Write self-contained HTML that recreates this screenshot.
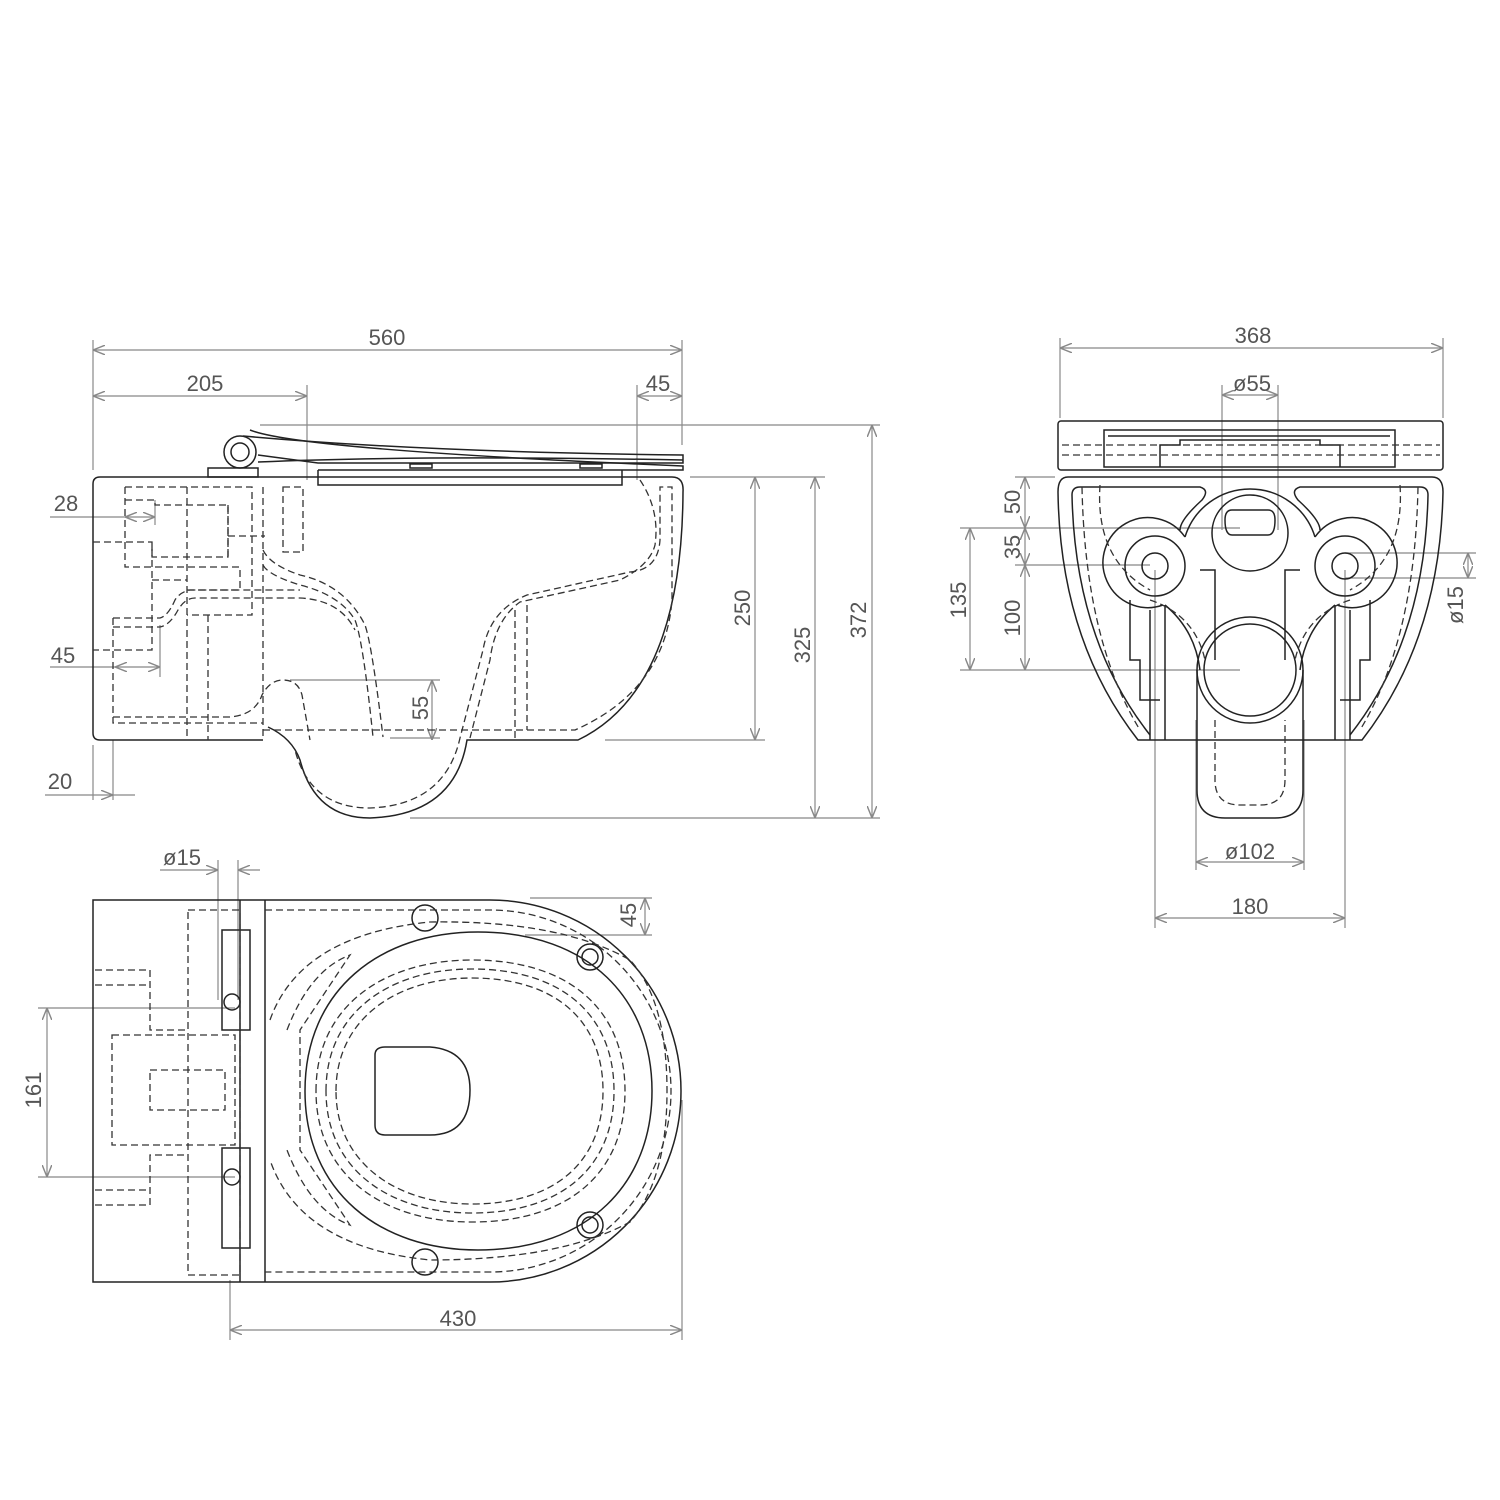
<!DOCTYPE html>
<html><head><style>body{margin:0;background:#fff}svg{display:block}text{font-family:"Liberation Sans",sans-serif;font-size:22px;fill:#555}</style></head><body>
<svg width="1500" height="1500" viewBox="0 0 1500 1500" xmlns="http://www.w3.org/2000/svg">
<defs><marker id="a" markerWidth="10" markerHeight="8" refX="10" refY="4" orient="auto-start-reverse"><path d="M0,0L10,4L0,8" fill="none" stroke="#888" stroke-width="1.2"/></marker></defs>
<g stroke="#888" stroke-width="1.2" fill="none">
<line x1="93" y1="350" x2="682" y2="350" marker-start="url(#a)" marker-end="url(#a)"/>
<line x1="93" y1="396" x2="307" y2="396" marker-start="url(#a)" marker-end="url(#a)"/>
<line x1="637" y1="396" x2="682" y2="396" marker-start="url(#a)" marker-end="url(#a)"/>
<path d="M93 340V470M682 340V445M307 385V480M637 385V480"/>
<line x1="755" y1="477" x2="755" y2="740" marker-start="url(#a)" marker-end="url(#a)"/>
<line x1="815" y1="477" x2="815" y2="818" marker-start="url(#a)" marker-end="url(#a)"/>
<line x1="872" y1="425" x2="872" y2="818" marker-start="url(#a)" marker-end="url(#a)"/>
<path d="M260 425H880M690 477H825M605 740H765M410 818H880"/>
<line x1="125" y1="517" x2="155" y2="517" marker-start="url(#a)" marker-end="url(#a)"/>
<line x1="115" y1="667" x2="160" y2="667" marker-start="url(#a)" marker-end="url(#a)"/>
<path d="M50 667H115M50 517H125M160 625V677M155 500V525"/>
<line x1="432" y1="680" x2="432" y2="740" marker-start="url(#a)" marker-end="url(#a)"/>
<path d="M290 680H440M390 738H440"/>
<line x1="93" y1="795" x2="113" y2="795" marker-end="url(#a)"/><path d="M45 795H93M113 795H135M93 745V800M113 740V800"/>
<line x1="1060" y1="348" x2="1443" y2="348" marker-start="url(#a)" marker-end="url(#a)"/>
<path d="M1060 338V418M1443 338V418"/>
<line x1="1222" y1="395" x2="1278" y2="395" marker-start="url(#a)" marker-end="url(#a)"/>
<path d="M1222 385V530M1278 385V530"/>
<line x1="1025" y1="477" x2="1025" y2="528" marker-start="url(#a)" marker-end="url(#a)"/>
<line x1="1025" y1="528" x2="1025" y2="565" marker-start="url(#a)" marker-end="url(#a)"/>
<line x1="1025" y1="565" x2="1025" y2="670" marker-start="url(#a)" marker-end="url(#a)"/>
<line x1="970" y1="528" x2="970" y2="670" marker-start="url(#a)" marker-end="url(#a)"/>
<path d="M960 528H1240M1015 565H1150M960 670H1240M1015 477H1055"/>
<line x1="1468" y1="553" x2="1468" y2="578" marker-start="url(#a)" marker-end="url(#a)"/>
<path d="M1345 553H1476M1345 578H1476"/>
<line x1="1196" y1="862" x2="1304" y2="862" marker-start="url(#a)" marker-end="url(#a)"/>
<line x1="1155" y1="918" x2="1345" y2="918" marker-start="url(#a)" marker-end="url(#a)"/>
<path d="M1155 570V928M1345 570V928M1196 720V870M1304 720V870"/>
<line x1="160" y1="870" x2="218" y2="870" marker-end="url(#a)"/><line x1="260" y1="870" x2="238" y2="870" marker-end="url(#a)"/>
<path d="M218 860V1000M238 860V1000"/>
<line x1="645" y1="898" x2="645" y2="935" marker-start="url(#a)" marker-end="url(#a)"/>
<path d="M530 898H652M525 935H652"/>
<line x1="47" y1="1008" x2="47" y2="1177" marker-start="url(#a)" marker-end="url(#a)"/>
<path d="M38 1008H235M38 1177H235"/>
<line x1="230" y1="1330" x2="682" y2="1330" marker-start="url(#a)" marker-end="url(#a)"/>
<path d="M230 1280V1340M682 1100V1340"/>
</g>
<g stroke="#222" stroke-width="1.5" fill="none">
<path d="M100 477H672Q684 477 683 492Q682 690 578 740H467Q455 815 370 818Q315 818 300 760Q292 738 268 727M263 740H100Q93 740 93 733V484Q93 477 100 477"/>
<path d="M243 436Q420 452 683 455V463H318L258 455"/>
<path d="M250 430Q300 450 683 466V470H318"/>
<path d="M258 462Q420 455 683 460"/>
<path d="M318 470V485H622V470"/>
<circle cx="240" cy="452" r="16"/><circle cx="240" cy="452" r="9"/>
<rect x="208" y="468" width="50" height="9"/>
<path d="M410 468h22v-4h-22zM580 468h22v-4h-22z"/>
</g>
<g stroke="#333" stroke-width="1.3" fill="none" stroke-dasharray="7 4">
<path d="M125 487H252V615H187M187 487V740M208 615V740M263 487V740"/>
<path d="M125 487V567H240V590H187"/>
<path d="M125 500H155V505H228V557H152V545"/>
<path d="M228 536H265M228 505V557"/>
<path d="M93 542H152V650H93"/>
<path d="M152 580H187"/>
<path d="M113 618H160Q168 616 175 600Q180 592 190 590H300M113 627H160Q170 625 178 610Q185 598 195 598H300Q340 600 355 630"/>
<path d="M113 618V723H263M113 717H230Q255 715 262 695Q270 680 283 680Q298 680 302 695L310 740"/>
<path d="M283 487H303V552H283Z"/>
<path d="M263 565Q268 575 300 585Q340 595 355 620Q363 640 373 737M263 550Q270 565 300 575Q345 585 365 625Q372 645 383 737"/>
<path d="M263 730H575Q665 690 672 600V487H660V540Q658 570 630 572L527 595Q490 610 483 650L460 738Q445 805 370 808Q310 808 295 750"/>
<path d="M640 480Q660 510 655 545Q650 565 620 580L520 602Q495 620 490 660L470 738"/>
<path d="M515 610V740M527 605V730"/>
</g>
<g stroke="#222" stroke-width="1.5" fill="none">
<rect x="1058" y="421" width="385" height="49" rx="3"/>
<path d="M1104 430H1395V467H1104Z M1108 436H1390"/>
<path d="M1160 467V445H1180V440H1320V445H1340V467"/>
<path d="M1068 477H1432Q1443 477 1443 492Q1440 640 1362 740H1138Q1060 640 1058 492Q1058 477 1068 477Z"/>
<path d="M1072 495Q1072 487 1080 487H1200Q1210 490 1202 500Q1180 520 1180 530"/>
<path d="M1428 495Q1428 487 1420 487H1300Q1290 490 1298 500Q1320 520 1320 530"/>
<path d="M1072 495Q1075 640 1150 735M1428 495Q1425 640 1350 735"/>
<path d="M1185 537A68 68 0 0 1 1315 537"/>
<path d="M1185 537A45 45 0 1 0 1163 605M1315 537A45 45 0 1 1 1337 605"/>
<circle cx="1250" cy="533" r="38"/>
<path d="M1232 510H1268Q1275 510 1275 520Q1275 535 1268 535H1232Q1225 535 1225 520Q1225 510 1232 510Z"/>
<circle cx="1155" cy="566" r="30"/><circle cx="1155" cy="566" r="13"/>
<circle cx="1345" cy="566" r="30"/><circle cx="1345" cy="566" r="13"/>
<circle cx="1250" cy="670" r="53"/><circle cx="1250" cy="670" r="46"/>
<path d="M1197 670V790Q1197 818 1225 818H1275Q1303 818 1303 790V670"/>
<path d="M1150 610V740M1165 605V740M1335 605V740M1350 610V740"/>
<path d="M1165 605Q1195 630 1200 670M1335 605Q1305 630 1300 670"/>
<path d="M1200 570H1215V600M1300 570H1285V600M1215 600V660M1285 600V660"/>
<path d="M1130 600V660H1140V700H1160M1370 600V660H1360V700H1340"/>
</g>
<g stroke="#333" stroke-width="1.3" fill="none" stroke-dasharray="7 4">
<path d="M1062 445H1440M1062 455H1440"/>
<path d="M1100 485Q1095 560 1150 590M1400 485Q1405 560 1350 590"/>
<path d="M1082 487Q1085 640 1140 730M1418 487Q1415 640 1360 730"/>
<path d="M1150 600Q1195 615 1205 660M1350 600Q1305 615 1295 660"/>
<path d="M1215 720V780Q1215 805 1240 805H1260Q1285 805 1285 780V720"/>
</g>
<g stroke="#222" stroke-width="1.5" fill="none">
<path d="M93 900H490A191 191 0 0 1 490 1282H93Z"/>
<path d="M240 900V1282M265 900V1282"/>
<path d="M305 1091C305 990 380 932 478 932C590 932 652 1000 652 1091C652 1182 590 1250 478 1250C380 1250 305 1192 305 1091Z"/>
<path d="M375 1055Q375 1047 385 1047H430Q470 1050 470 1090Q470 1135 430 1135H385Q375 1135 375 1125Z"/>
<circle cx="425" cy="918" r="13"/><circle cx="425" cy="1262" r="13"/>
<circle cx="590" cy="957" r="13"/><circle cx="590" cy="957" r="8"/><circle cx="590" cy="1225" r="13"/><circle cx="590" cy="1225" r="8"/>
<rect x="222" y="930" width="28" height="100"/><rect x="222" y="1148" width="28" height="100"/>
<circle cx="232" cy="1002" r="8"/><circle cx="232" cy="1177" r="8"/>
</g>
<g stroke="#333" stroke-width="1.3" fill="none" stroke-dasharray="7 4">
<path d="M316 1091C316 1005 385 960 472 960C570 960 625 1010 625 1091C625 1172 570 1222 472 1222C385 1222 316 1177 316 1091Z"/>
<path d="M326 1091C326 1012 390 969 472 969C562 969 614 1015 614 1091C614 1167 562 1213 472 1213C390 1213 326 1170 326 1091Z"/>
<path d="M336 1091C336 1020 395 978 472 978C555 978 603 1020 603 1091C603 1162 555 1204 472 1204C395 1204 336 1162 336 1091Z"/>
<path d="M265 910H490A181 181 0 0 1 490 1272H265"/>
<path d="M270 1020Q300 935 430 922Q560 920 630 960Q667 1000 667 1091Q667 1180 630 1222Q560 1260 430 1260Q300 1247 270 1160"/>
<path d="M287 1030Q310 970 350 955L300 1030V1150L350 1225Q310 1210 287 1150"/>
<path d="M188 910H240V1275H188Z"/>
<path d="M112 1035H235V1145H112Z M150 1070H225V1110H150Z"/>
<path d="M95 970H150V1030H188M95 1205H150V1155H188M95 985H150M95 1190H150"/>
</g>
<g>
<text x="387" y="345" text-anchor="middle">560</text>
<text x="205" y="391" text-anchor="middle">205</text>
<text x="658" y="391" text-anchor="middle">45</text>
<text x="66" y="511" text-anchor="middle">28</text>
<text x="63" y="663" text-anchor="middle">45</text>
<text x="60" y="789" text-anchor="middle">20</text>
<text transform="translate(750 608) rotate(-90)" text-anchor="middle">250</text>
<text transform="translate(810 645) rotate(-90)" text-anchor="middle">325</text>
<text transform="translate(866 620) rotate(-90)" text-anchor="middle">372</text>
<text transform="translate(428 708) rotate(-90)" text-anchor="middle">55</text>
<text x="1253" y="343" text-anchor="middle">368</text>
<text x="1252" y="391" text-anchor="middle">ø55</text>
<text transform="translate(1020 502) rotate(-90)" text-anchor="middle">50</text>
<text transform="translate(1020 547) rotate(-90)" text-anchor="middle">35</text>
<text transform="translate(1020 618) rotate(-90)" text-anchor="middle">100</text>
<text transform="translate(966 600) rotate(-90)" text-anchor="middle">135</text>
<text transform="translate(1463 605) rotate(-90)" text-anchor="middle">ø15</text>
<text x="1250" y="859" text-anchor="middle">ø102</text>
<text x="1250" y="914" text-anchor="middle">180</text>
<text x="182" y="865" text-anchor="middle">ø15</text>
<text transform="translate(636 915) rotate(-90)" text-anchor="middle">45</text>
<text transform="translate(41 1090) rotate(-90)" text-anchor="middle">161</text>
<text x="458" y="1326" text-anchor="middle">430</text>
</g>
</svg>
</body></html>
